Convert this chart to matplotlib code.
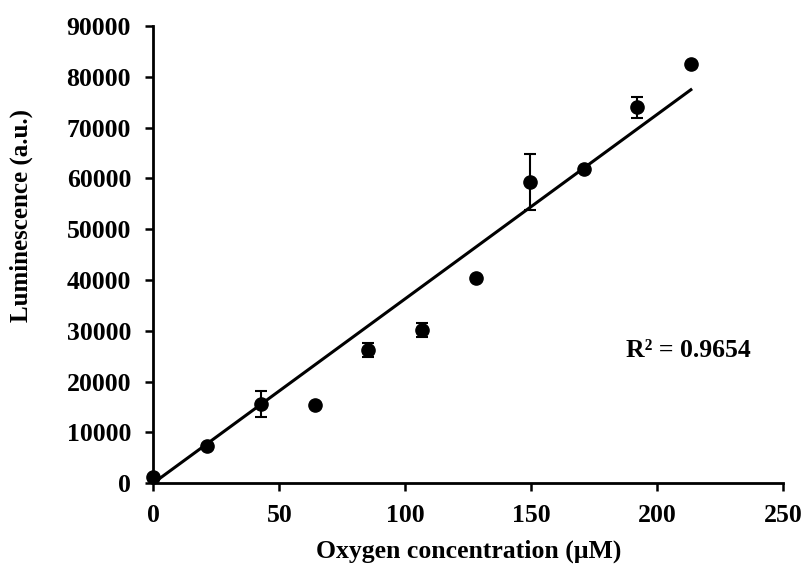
import numpy as np
import matplotlib
matplotlib.use("Agg")
from matplotlib import pyplot as plt

# data
oxygen = [0, 21.3, 42.7, 64.0, 85.3, 106.7, 128.0, 149.3, 170.7, 192.0, 213.3]
lum = [1200, 7300, 15600, 15300, 26200, 30100, 40300, 59300, 61900, 74000, 82500]
lum_err = [0, 0, 2500, 0, 1400, 1400, 0, 5600, 0, 2100, 0]
r2_label = "R² = 0.9654"
xticks = [0, 50, 100, 150, 200, 250]
yticks = [0, 10000, 20000, 30000, 40000, 50000, 60000, 70000, 80000, 90000]

plt.rcParams['font.family'] = ['Liberation Serif', 'DejaVu Serif']
plt.rcParams['font.weight'] = 'bold'

fig = plt.figure(figsize=(8.07, 5.67), dpi=100)
ax = fig.add_axes([0.19, 0.148, 0.7807, 0.806])

x = np.array(oxygen)
y = np.array(lum)

# linear trendline forced through the origin
slope = np.sum(x * y) / np.sum(x * x)
xs = np.array([0, x.max()])
ax.plot(xs, slope * xs, color='black', lw=2.2, zorder=2)

ax.errorbar(x, y, yerr=lum_err, fmt='o', color='black', ms=9.5,
            ecolor='black', elinewidth=1.5, capsize=4.3, capthick=1.5,
            zorder=3, clip_on=False)

ax.text(0.849, 0.29, r2_label, transform=ax.transAxes, ha='center',
        va='center', fontsize=18.5, fontweight='bold')

ax.set_xlim(0, 250)
ax.set_ylim(0, 90000)
ax.set_xticks(xticks)
ax.set_yticks(yticks)
ax.tick_params(labelsize=18.5, width=1.8, length=6, direction='out')
ax.tick_params(axis='x', pad=9)
ax.tick_params(axis='y', pad=10)
for lbl in ax.get_xticklabels() + ax.get_yticklabels():
    lbl.set_fontweight('bold')

for s in ['top', 'right']:
    ax.spines[s].set_visible(False)
for s in ['left', 'bottom']:
    ax.spines[s].set_linewidth(2)

ax.set_xlabel('Oxygen concentration (μM)', fontsize=18.5, fontweight='bold', labelpad=9)
ax.set_ylabel('Luminescence (a.u.)', fontsize=18, fontweight='bold')
ax.yaxis.set_label_coords(-0.191, 0.585)

fig.savefig('out.png', dpi=100)
